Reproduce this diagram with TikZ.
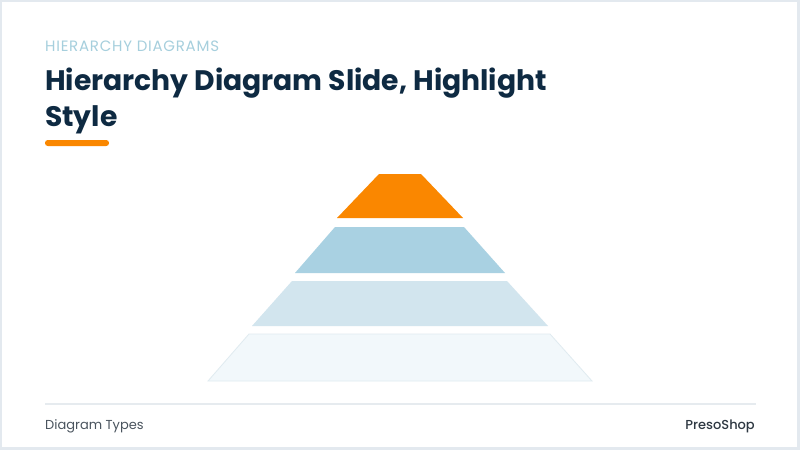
\documentclass[tikz,border=0pt]{standalone}
\usepackage{fontspec}
\setmainfont{Poppins}
\newfontfamily\popmed{Poppins}[UprightFont={* Medium}]
\definecolor{navy}{HTML}{0E2A42}
\definecolor{kicker}{HTML}{A6CFDD}
\definecolor{accent}{HTML}{FA8700}
\definecolor{tierA}{HTML}{A9D1E2}
\definecolor{tierB}{HTML}{D2E5EE}
\definecolor{tierC}{HTML}{F2F8FB}
\definecolor{tierCline}{HTML}{E0EBF0}
\definecolor{frame}{HTML}{E3E9EF}
\definecolor{rule}{HTML}{E6EBEF}
\definecolor{foot}{HTML}{4A545E}
\definecolor{footdark}{HTML}{2E3842}
\begin{document}
\begin{tikzpicture}[x=1pt,y=-1pt,
  kickerstyle/.style={anchor=base west,inner sep=0pt,text=kicker,font=\fontsize{15}{17}\selectfont\addfontfeature{LetterSpace=5}},
  titlestyle/.style={anchor=base west,inner sep=0pt,text=navy,font=\fontsize{28.2}{34}\selectfont\bfseries},
  footstyle/.style={inner sep=0pt,font=\fontsize{13}{15}\selectfont}]
\useasboundingbox (0,0) rectangle (800,450);
\fill[frame] (0,0) rectangle (800,450);
\fill[white] (2,2) rectangle (797,447);
% header
\node[kickerstyle] (kicker) at (45,51) {HIERARCHY DIAGRAMS};
\node[titlestyle] (title1) at (45,90.5) {Hierarchy Diagram Slide, Highlight};
\node[titlestyle] (title2) at (45,126) {Style};
\fill[accent, rounded corners=2.8pt] (45,140) rectangle (109,146);
% pyramid
\fill[accent] (379,174) -- (421,174) -- (463,218) -- (337,218) -- cycle;
\fill[tierA] (335,227) -- (464,227) -- (505,273) -- (295,273) -- cycle;
\fill[tierB] (292,281) -- (507,281) -- (548,326) -- (252,326) -- cycle;
\filldraw[fill=tierC, draw=tierCline, line width=0.8pt] (249,334) -- (550,334) -- (592,381) -- (208,381) -- cycle;
% footer
\draw[rule, line width=2pt] (45,404) -- (756,404);
\node[footstyle, anchor=base west, text=foot] (ftl) at (45,429) {Diagram Types};
\node[footstyle, anchor=base east, text=footdark, font=\fontsize{13}{15}\selectfont\popmed] (ftr) at (755,429) {PresoShop};
\end{tikzpicture}
\end{document}
